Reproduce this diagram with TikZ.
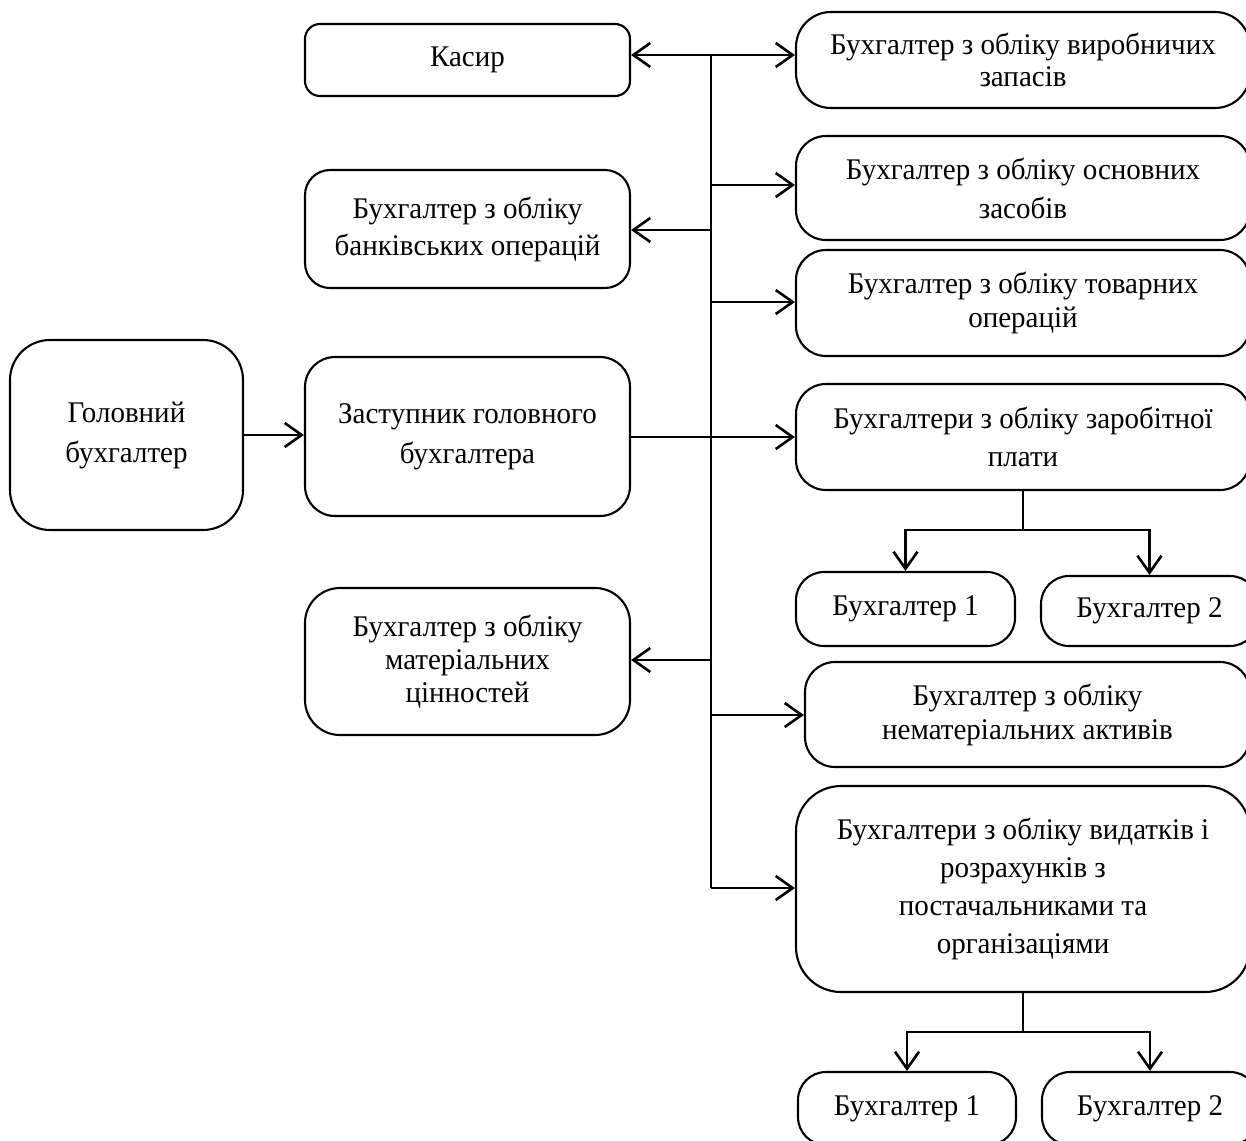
\documentclass[tikz,border=0pt]{standalone}
\usepackage{fontspec}
\setmainfont{Liberation Serif}[FakeStretch=0.967]
\usetikzlibrary{arrows.meta}
\tikzset{
  box/.style={draw, line width=2.1pt, align=center, inner sep=0pt, rectangle,
    font=\fontsize{30}{36}\selectfont},
  conn/.style={line width=2.6pt},
  arr/.style={conn, -{Straight Barb[length=17pt,width=24pt,line width=2.6pt]}}
}
\begin{document}
\begin{tikzpicture}[x=1pt,y=-1pt]
\useasboundingbox (0,0) rectangle (1246,1140);
% left column
\node[box, rounded corners=40pt, minimum width=233pt, minimum height=190pt, font=\fontsize{30}{40}\selectfont] (holov) at (126.5,435) {Головний\\бухгалтер};
\node[box, rounded corners=15pt, minimum width=325pt, minimum height=72pt] (kasyr) at (467.5,60) {\raisebox{3pt}{Касир}};
\node[box, rounded corners=25pt, minimum width=325pt, minimum height=118pt, font=\fontsize{30}{37}\selectfont] (bank) at (467.5,229) {Бухгалтер з обліку\\банківських операцій};
\node[box, rounded corners=30pt, minimum width=325pt, minimum height=159pt, font=\fontsize{30}{40}\selectfont] (zast) at (467.5,436.5) {Заступник головного\\бухгалтера};
\node[box, rounded corners=35pt, minimum width=325pt, minimum height=147pt, font=\fontsize{30}{33}\selectfont] (mater) at (467.5,661.5) {Бухгалтер з обліку\\матеріальних\\цінностей};
% right column
\node[box, rounded corners=35pt, minimum width=454pt, minimum height=96pt, font=\fontsize{30}{32}\selectfont] (vyrob) at (1023,60) {Бухгалтер з обліку виробничих\\запасів};
\node[box, rounded corners=30pt, minimum width=454pt, minimum height=104pt, font=\fontsize{30}{39}\selectfont] (osn) at (1023,188) {Бухгалтер з обліку основних\\засобів};
\node[box, rounded corners=30pt, minimum width=454pt, minimum height=106pt, font=\fontsize{30}{34}\selectfont] (tovar) at (1023,303) {Бухгалтер з обліку товарних\\операцій};
\node[box, rounded corners=30pt, minimum width=454pt, minimum height=106pt, font=\fontsize{30}{38}\selectfont] (zarob) at (1023,437) {Бухгалтери з обліку заробітної\\плати};
\node[box, rounded corners=28pt, minimum width=219pt, minimum height=74pt] (b1) at (905.5,609) {Бухгалтер 1};
\node[box, rounded corners=28pt, minimum width=217pt, minimum height=70pt] (b2) at (1149.5,611) {Бухгалтер 2};
\node[box, rounded corners=30pt, minimum width=445pt, minimum height=105pt, font=\fontsize{30}{34}\selectfont] (nemat) at (1027.5,714.5) {Бухгалтер з обліку\\нематеріальних активів};
\node[box, rounded corners=45pt, minimum width=454pt, minimum height=206pt, font=\fontsize{30}{38}\selectfont] (vydat) at (1023,889) {Бухгалтери з обліку видатків і\\розрахунків з\\постачальниками та\\організаціями};
\node[box, rounded corners=28pt, minimum width=218pt, minimum height=73pt] (b3) at (907,1108.5) {Бухгалтер 1};
\node[box, rounded corners=28pt, minimum width=216pt, minimum height=73pt] (b4) at (1150,1108.5) {Бухгалтер 2};
% trunk
\coordinate (tTop) at (711,55);
\coordinate (t2) at (711,185);
\coordinate (t3) at (711,230);
\coordinate (t4) at (711,302);
\coordinate (t5) at (711,660);
\coordinate (t6) at (711,715);
\coordinate (tBot) at (711,888);
\draw[conn] (tTop) -- (tBot);
\draw[arr] (tTop) -- (kasyr.east |- tTop);
\draw[arr] (tTop) -- (vyrob.west |- tTop);
\draw[arr] (t2) -- (osn.west |- t2);
\draw[arr] (t3) -- (bank.east |- t3);
\draw[arr] (t4) -- (tovar.west |- t4);
\draw[arr] (zast.east |- zarob.west) -- (zarob.west);
\draw[arr] (holov.east) -- (zast.west |- holov.east);
\draw[arr] (t5) -- (mater.east |- t5);
\draw[arr] (t6) -- (nemat.west |- t6);
\draw[arr] (tBot) -- (vydat.west |- tBot);
% sub-branches
\coordinate (zj) at (1023,530);
\draw[conn] (zarob.south) -- (zj);
\draw[arr] (zj) -| (b1.north);
\draw[arr] (zj) -| (b2.north);
\coordinate (vj) at (1023,1032);
\draw[conn] (vydat.south) -- (vj);
\draw[arr] (vj) -| (b3.north);
\draw[arr] (vj) -| (b4.north);
\end{tikzpicture}
\end{document}
